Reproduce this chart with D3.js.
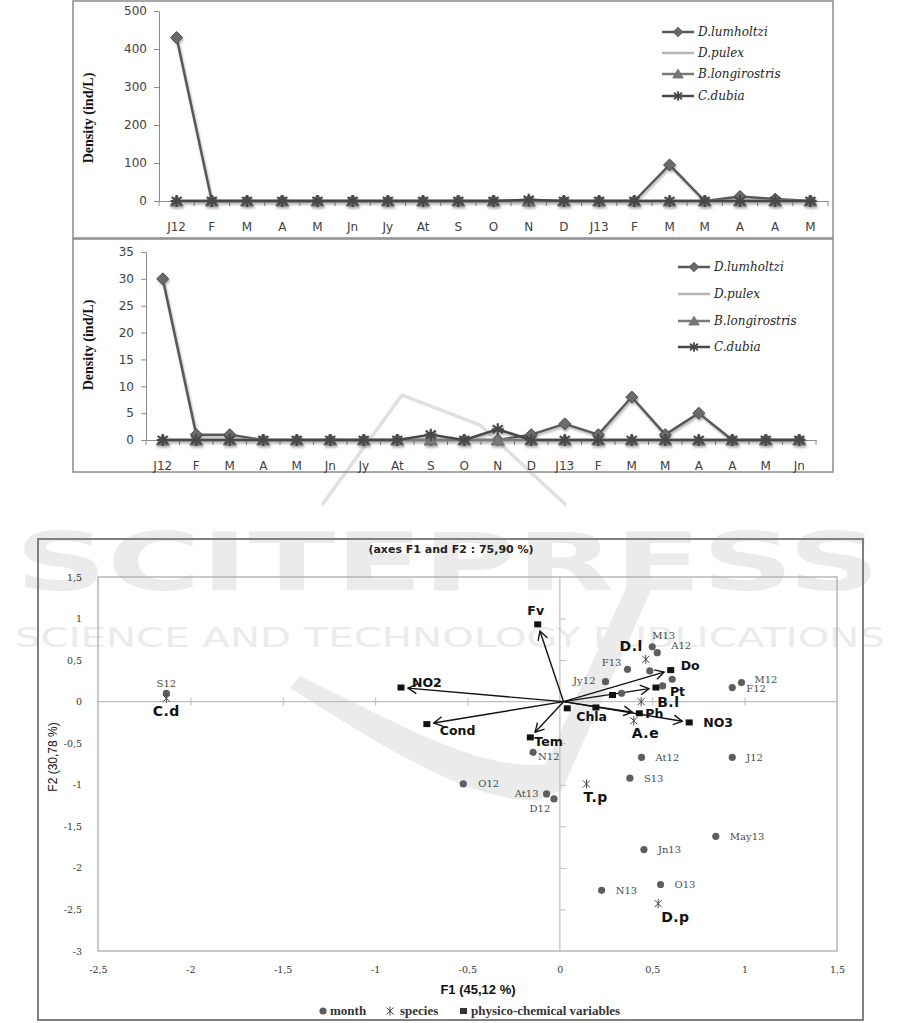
<!DOCTYPE html>
<html>
<head>
<meta charset="utf-8">
<title>Cladocera density and PCA</title>
<script src="https://cdn.jsdelivr.net/npm/d3@7"></script>
<style>
    body { margin: 0; background: #fff; }
    svg { display: block; }
    .lc .tick text { font-family: "DejaVu Sans", sans-serif; font-size: 12px; fill: #404040; }
    .lc .domain, .lc .tick line { stroke: #8a8a8a; }
    .legend text { font-family: "DejaVu Serif", serif; font-style: italic; font-size: 12px; fill: #262626; }
    .ylab { font-family: "Liberation Serif", serif; font-weight: bold; font-size: 14px; fill: #111; }
    .pca .tick text { font-family: "DejaVu Serif", serif; font-size: 9.5px; fill: #333; }
    .mlab { font-family: "DejaVu Serif", serif; font-size: 10px; fill: #4a4a4a; }
    .slab, .vlab { font-family: "DejaVu Sans", sans-serif; font-weight: bold; fill: #111; }
</style>
</head>
<body>
<svg id="fig" width="901" height="1023"></svg>
<script>
// ---- chart 1 (0-500 ind/L)
const months1 = ["J12","F","M","A","M","Jn","Jy","At","S","O","N","D","J13","F","M","M","A","A","M"];
const lumholtzi1    = [430,0,0,0,0,0,0,0,0,0,0,0,0,0,95,0,12,5,0];
const pulex1        = [0,0,0,0,0,0,0,0,0,0,0,0,0,0,0,0,0,0,0];
const longirostris1 = [0,0,0,0,0,0,0,0,0,0,0,0,0,0,0,0,0,0,0];
const dubia1        = [0,0,0,0,0,0,0,0,0,0,3,0,0,0,0,0,0,0,0];
const yTicks1 = [0,100,200,300,400,500];

// ---- chart 2 (0-35 ind/L)
const months2 = ["J12","F","M","A","M","Jn","Jy","At","S","O","N","D","J13","F","M","M","A","A","M","Jn"];
const lumholtzi2    = [30,1,1,0,0,0,0,0,0,0,0,1,3,1,8,1,5,0,0,0];
const pulex2        = [0,0,0,0,0,0,0,0,0,0,0,0,0,0,0,0,0,0,0,0];
const longirostris2 = [0,0,0,0,0,0,0,0,0,0,0,0,0,0,0,0,0,0,0,0];
const dubia2        = [0,0,0,0,0,0,0,0,1,0,2,0,0,0,0,0,0,0,0,0];
const yTicks2 = [0,5,10,15,20,25,30,35];

const speciesNamesLC = ["D.lumholtzi","D.pulex","B.longirostris","C.dubia"];

// ---- PCA biplot
const monthNames = ["S12","M13","A12","F13","","","Jy12","","","M12","F12","N12","At12","J12","S13","O12","At13","D12","May13","Jn13","O13","N13"];
const monthF1 = [-2.13,0.50,0.527,0.366,0.487,0.608,0.247,0.556,0.334,0.983,0.933,-0.145,0.442,0.933,0.379,-0.523,-0.072,-0.032,0.844,0.455,0.545,0.226];
const monthF2 = [0.10,0.66,0.59,0.39,0.37,0.27,0.24,0.19,0.10,0.23,0.17,-0.61,-0.67,-0.67,-0.92,-0.99,-1.11,-1.17,-1.62,-1.78,-2.20,-2.27];

const speciesNames = ["C.d","D.l","B.l","A.e","T.p","D.p"];
const speciesF1 = [-2.13,0.465,0.44,0.40,0.144,0.532];
const speciesF2 = [0.04,0.51,0.0,-0.23,-0.99,-2.43];

const varNames = ["Fv","NO2","Cond","Tem","Chla","","Ph","NO3","Do","Pt",""];
const varF1 = [-0.12,-0.86,-0.72,-0.16,0.04,0.195,0.43,0.70,0.60,0.52,0.285];
const varF2 = [0.93,0.17,-0.27,-0.43,-0.08,-0.07,-0.14,-0.25,0.38,0.17,0.08];
const varArrow = [true,true,true,true,false,false,true,true,true,true,false];

const f1Ticks = [-2.5,-2,-1.5,-1,-0.5,0,0.5,1,1.5];
const f2Ticks = [-3,-2.5,-2,-1.5,-1,-0.5,0,0.5,1,1.5];

// label placement (dx, dy, anchor) for the biplot
const monthLabelPos = [[0,-6,"middle"],[0,-8,"start"],[14,-4,"start"],[-6,-3,"end"],[0,0,"start"],[0,0,"start"],
    [-10,2,"end"],[0,0,"start"],[0,0,"start"],[13,0,"start"],[14,4,"start"],[5,8,"start"],[14,3.5,"start"],
    [14,3.5,"start"],[14,3.5,"start"],[15,3.5,"start"],[-8,3.5,"end"],[-14,13.5,"middle"],[14,3.5,"start"],
    [14,3.5,"start"],[14,3.5,"start"],[14,3.5,"start"]];
const speciesLabelPos = [[0,18,"middle"],[-3,-8,"end"],[16,5,"start"],[-2,17,"start"],[-3,18,"start"],[3,18,"start"]];
const varLabelPos = [[-2,-9.5,"middle"],[11,-1,"start"],[13,11,"start"],[4,9,"start"],[9,13,"start"],[0,0,"start"],
    [6,4.5,"start"],[14,4.5,"start"],[10,0,"start"],[14,8.5,"start"],[0,0,"start"]];

const svg = d3.select("#fig");
svg.append("rect").attr("width", 901).attr("height", 1023).attr("fill", "#fff");

const defs = svg.append("defs");
defs.append("filter").attr("id", "sh").attr("x", "-20%").attr("y", "-20%").attr("width", "140%").attr("height", "140%")
    .append("feDropShadow").attr("dx", 1).attr("dy", 2).attr("stdDeviation", 1.2)
    .attr("flood-color", "#000").attr("flood-opacity", 0.3);

// ---- watermark
const wm = svg.append("g").attr("fill", "#ebebeb");
wm.append("path")
    .attr("d", "M290,688 C380,745 470,803 537,800 L562,790 L652,588 L626,588 L546,764 C480,772 400,724 300,676 Z");
wm.append("path").attr("fill", "none").attr("stroke", "#e0e0e0").attr("stroke-width", 3.5)
    .attr("d", "M322,505 L402,395 L480,425 L566,505");
wm.append("text").attr("x", 15).attr("y", 590).attr("textLength", 865).attr("lengthAdjust", "spacingAndGlyphs")
    .style("font-family", "DejaVu Sans").style("font-weight", "bold").style("font-size", "80px")
    .text("SCITEPRESS");
wm.append("text").attr("x", 15).attr("y", 647).attr("textLength", 870).attr("lengthAdjust", "spacingAndGlyphs")
    .style("font-family", "DejaVu Sans").style("font-size", "26px")
    .text("SCIENCE AND TECHNOLOGY PUBLICATIONS");

// ---- marker shapes
function drawMarker(sel, kind, color) {
    if (kind === "diamond") {
        sel.append("path").attr("d", "M0,-6L6,0L0,6L-6,0Z").attr("fill", "#6a6a6a").attr("stroke", "#4a4a4a").attr("stroke-width", 1);
    } else if (kind === "triangle") {
        sel.append("path").attr("d", "M0,-6L6.5,5L-6.5,5Z").attr("fill", "#787878").attr("stroke", "#6a6a6a").attr("stroke-width", 1);
    } else if (kind === "star") {
        sel.append("path").attr("d", "M0,-6V6M-5,-4L5,4M-5,4L5,-4M-6,0H6")
            .attr("stroke", color).attr("stroke-width", 2.2).attr("fill", "none");
    }
}

const seriesStyle = [
    { color: "#595959", marker: "diamond", width: 2.5 },
    { color: "#b5b5b5", marker: null, width: 2.5 },
    { color: "#7a7a7a", marker: "triangle", width: 2.5 },
    { color: "#474747", marker: "star", width: 2.5 }
];

function lineChart(cfg) {
    const g = svg.append("g").attr("class", "lc");
    g.append("rect").attr("x", cfg.frame[0]).attr("y", cfg.frame[1])
        .attr("width", cfg.frame[2]).attr("height", cfg.frame[3])
        .attr("fill", "none").attr("stroke", "#8c8c8c").attr("stroke-width", 1.5);

    const x = d3.scaleBand().domain(d3.range(cfg.months.length)).range(cfg.xRange);
    const y = d3.scaleLinear().domain(cfg.yDomain).range(cfg.yRange);
    const cx = i => x(i) + x.bandwidth() / 2;

    g.append("g").attr("transform", `translate(${cfg.xRange[0]},0)`)
        .call(d3.axisLeft(y).tickValues(cfg.yTicks).tickSize(5).tickSizeOuter(0).tickPadding(7));

    const xa = g.append("g").attr("transform", `translate(0,${y(0)})`)
        .call(d3.axisBottom(x).tickFormat(i => cfg.months[i]).tickSize(0).tickPadding(21));
    xa.selectAll(".tick").attr("transform", d => `translate(${cx(d)},0)`);
    // category boundary ticks
    const bounds = d3.range(cfg.months.length + 1).map(i => cfg.xRange[0] + i * x.bandwidth());
    xa.selectAll(".bt").data(bounds).join("line").attr("class", "bt")
        .attr("x1", d => d).attr("x2", d => d).attr("y1", 0).attr("y2", 5).attr("stroke", "#8a8a8a");

    const line = d3.line().x((d, i) => cx(i)).y(d => y(d));
    const sg = g.append("g").attr("filter", "url(#sh)");
    cfg.series.forEach((vals, k) => {
        const st = seriesStyle[k];
        sg.append("path").datum(vals).attr("d", line).attr("fill", "none")
            .attr("stroke", st.color).attr("stroke-width", st.width).attr("stroke-linejoin", "round");
        if (st.marker) {
            vals.forEach((v, i) => {
                drawMarker(sg.append("g").attr("transform", `translate(${cx(i)},${y(v)})`), st.marker, st.color);
            });
        }
    });

    // legend
    const lg = g.append("g").attr("class", "legend");
    speciesNamesLC.forEach((name, k) => {
        const st = seriesStyle[k];
        const ly = cfg.legendY[k];
        lg.append("line").attr("x1", cfg.legendX).attr("x2", cfg.legendX + 32).attr("y1", ly).attr("y2", ly)
            .attr("stroke", st.color).attr("stroke-width", 2.5);
        if (st.marker) drawMarker(lg.append("g").attr("transform", `translate(${cfg.legendX + 16},${ly}) scale(0.8)`), st.marker, st.color);
        lg.append("text").attr("x", cfg.legendX + 36).attr("y", ly + 4).text(name);
    });

    g.append("text").attr("class", "ylab").attr("text-anchor", "middle")
        .attr("transform", `translate(${cfg.yLabel[0]},${cfg.yLabel[1]}) rotate(-90)`)
        .text("Density (ind/L)");
}

lineChart({
    frame: [73, 1, 760, 237], months: months1,
    xRange: [159, 828], yDomain: [0, 500], yRange: [201, 11], yTicks: yTicks1,
    series: [lumholtzi1, pulex1, longirostris1, dubia1],
    legendX: 662, legendY: [32, 53, 74, 96], yLabel: [93, 118]
});
lineChart({
    frame: [73, 239, 760, 233], months: months2,
    xRange: [146, 816], yDomain: [0, 35], yRange: [440, 252], yTicks: yTicks2,
    series: [lumholtzi2, pulex2, longirostris2, dubia2],
    legendX: 678, legendY: [267, 294, 321, 347], yLabel: [93, 345]
});

// ---- PCA biplot
const pg = svg.append("g").attr("class", "pca");
pg.append("rect").attr("x", 38).attr("y", 539).attr("width", 825).attr("height", 481)
    .attr("fill", "none").attr("stroke", "#7f7f7f").attr("stroke-width", 2);

const px = d3.scaleLinear().domain([-2.5, 1.5]).range([98, 837]);
const py = d3.scaleLinear().domain([-3, 1.5]).range([951, 577]);
const comma = d3.formatLocale({ decimal: ",", thousands: " ", grouping: [3], currency: ["", ""], minus: "-" }).format("~g");

pg.append("text").attr("x", 451).attr("y", 553).attr("text-anchor", "middle")
    .style("font-family", "DejaVu Sans").style("font-weight", "bold").style("font-size", "11px").attr("fill", "#222")
    .text("(axes F1 and F2 : 75,90 %)");

pg.append("rect").attr("x", px(-2.5)).attr("y", py(1.5)).attr("width", px(1.5) - px(-2.5)).attr("height", py(-3) - py(1.5))
    .attr("fill", "none").attr("stroke", "#a6a6a6").attr("stroke-width", 1.2);

// zero lines with small ticks
pg.append("line").attr("x1", px(-2.5)).attr("x2", px(1.5)).attr("y1", py(0)).attr("y2", py(0)).attr("stroke", "#bdbdbd").attr("stroke-width", 1.2);
pg.append("line").attr("x1", px(0)).attr("x2", px(0)).attr("y1", py(1.5)).attr("y2", py(-3)).attr("stroke", "#bdbdbd").attr("stroke-width", 1.2);
const hz = pg.append("g").attr("transform", `translate(0,${py(0) - 4})`)
    .call(d3.axisBottom(px).tickValues([-2, -1.5, -1, -0.5, 0.5, 1]).tickSize(8).tickFormat(""));
hz.select(".domain").remove();
const vz = pg.append("g").attr("transform", `translate(${px(0)},0)`)
    .call(d3.axisRight(py).tickValues([-2.5, -2, -1.5, -1, -0.5, 0.5, 1]).tickSize(6).tickFormat(""));
vz.select(".domain").remove();
pg.selectAll(".tick line").attr("stroke", "#bdbdbd");

// tick labels
const xl = pg.append("g").attr("transform", "translate(0,963)")
    .call(d3.axisBottom(px).tickValues(f1Ticks).tickSize(0).tickFormat(comma));
xl.select(".domain").remove();
const yl = pg.append("g").attr("transform", "translate(85,0)")
    .call(d3.axisLeft(py).tickValues(f2Ticks).tickSize(0).tickFormat(comma));
yl.select(".domain").remove();

pg.append("text").attr("x", 478).attr("y", 994).attr("text-anchor", "middle")
    .style("font-family", "Liberation Sans").style("font-weight", "bold").style("font-size", "13px").attr("fill", "#111")
    .text("F1 (45,12 %)");
pg.append("text").attr("text-anchor", "middle").attr("transform", "translate(57,757) rotate(-90)")
    .style("font-family", "Liberation Sans").style("font-size", "12px").attr("fill", "#111")
    .text("F2 (30,78 %)");

// arrows
const ox = px(0.02), oy = py(0);
const ag = pg.append("g").attr("stroke", "#111").attr("stroke-width", 1.4).attr("fill", "none");
varNames.forEach((n, i) => {
    if (!varArrow[i]) return;
    const tx = px(varF1[i]), ty = py(varF2[i]);
    const ang = Math.atan2(ty - oy, tx - ox);
    const len = Math.hypot(tx - ox, ty - oy) - 7;
    const ex = ox + len * Math.cos(ang), ey = oy + len * Math.sin(ang);
    ag.append("line").attr("x1", ox).attr("y1", oy).attr("x2", ex).attr("y2", ey);
    const a1 = ang + Math.PI * 0.84, a2 = ang - Math.PI * 0.84;
    ag.append("path").attr("d", `M${ex + 10 * Math.cos(a1)},${ey + 10 * Math.sin(a1)}L${ex},${ey}L${ex + 10 * Math.cos(a2)},${ey + 10 * Math.sin(a2)}`);
});

// variable squares
varNames.forEach((n, i) => {
    pg.append("rect").attr("x", px(varF1[i]) - 3.5).attr("y", py(varF2[i]) - 3).attr("width", 7).attr("height", 6).attr("fill", "#111");
    if (n) {
        const p = varLabelPos[i];
        pg.append("text").attr("class", "vlab").attr("x", px(varF1[i]) + p[0]).attr("y", py(varF2[i]) + p[1])
            .attr("text-anchor", p[2]).style("font-size", "12.5px").text(n);
    }
});

// months
monthNames.forEach((n, i) => {
    pg.append("circle").attr("cx", px(monthF1[i])).attr("cy", py(monthF2[i])).attr("r", 3.6).attr("fill", "#5e5e5e");
    if (n) {
        const p = monthLabelPos[i];
        pg.append("text").attr("class", "mlab").attr("x", px(monthF1[i]) + p[0]).attr("y", py(monthF2[i]) + p[1])
            .attr("text-anchor", p[2]).text(n);
    }
});

// species
const star = "M0,-4.5V4.5M-3.5,-3.5L3.5,3.5M-3.5,3.5L3.5,-3.5";
speciesNames.forEach((n, i) => {
    pg.append("path").attr("transform", `translate(${px(speciesF1[i])},${py(speciesF2[i])})`)
        .attr("d", star).attr("stroke", "#444").attr("stroke-width", 1).attr("fill", "none");
    const p = speciesLabelPos[i];
    pg.append("text").attr("class", "slab").attr("x", px(speciesF1[i]) + p[0]).attr("y", py(speciesF2[i]) + p[1])
        .attr("text-anchor", p[2]).style("font-size", "14px").style("letter-spacing", "0.5px").text(n);
});

// legend
const bl = pg.append("g").style("font-family", "Liberation Serif").style("font-weight", "bold").style("font-size", "13px").attr("fill", "#333");
bl.append("circle").attr("cx", 323).attr("cy", 1011).attr("r", 3.6).attr("fill", "#5e5e5e");
bl.append("text").attr("x", 330).attr("y", 1015).text("month");
bl.append("path").attr("transform", "translate(390,1011)").attr("d", star).attr("stroke", "#444").attr("fill", "none");
bl.append("text").attr("x", 400).attr("y", 1015).text("species");
bl.append("rect").attr("x", 460).attr("y", 1008).attr("width", 7).attr("height", 6).attr("fill", "#333");
bl.append("text").attr("x", 471).attr("y", 1015).text("physico-chemical variables");
</script>
</body>
</html>
